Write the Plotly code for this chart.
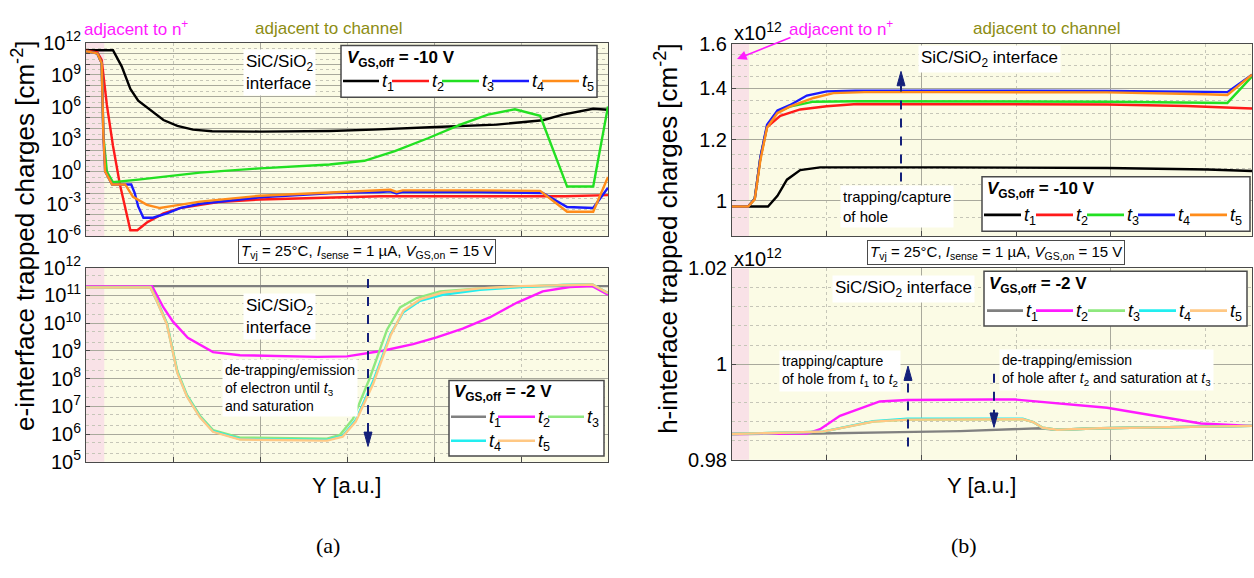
import numpy as np
import plotly.graph_objects as go

W, H = 1254, 578
FONT = "Arial, Liberation Sans, sans-serif"

# ---------------- data ----------------
# Position along the SiC/SiO2 interface, Y [a.u.]
# (a) top: V_GS,off = -10 V, log10 of e-interface trapped charges [cm^-2]
a10_t1_pos = [0, 0.31, 0.41, 0.51, 0.60, 0.74, 0.89, 1.05, 1.23, 1.45, 2.0, 2.8, 3.3, 3.95, 4.72, 5.25, 5.48, 5.83, 6.0]
a10_t1_lg = [11.3, 11.3, 9.8, 7.7, 6.6, 5.7, 4.8, 4.25, 3.9, 3.75, 3.72, 3.78, 3.9, 4.13, 4.37, 4.78, 5.3, 5.85, 5.76]
a10_t2_pos = [0, 0.13, 0.18, 0.24, 0.31, 0.39, 0.51, 0.59, 0.70, 0.89, 1.08, 1.31, 1.52, 2.0, 2.84, 3.38, 4.0, 5.0, 5.5, 6.0]
a10_t2_lg = [11.25, 11.1, 10.4, 6.2, 2.4, -1.2, -5.47, -5.47, -4.75, -3.9, -3.4, -3.1, -2.85, -2.6, -2.4, -2.3, -2.3, -2.3, -2.3, -2.2]
a10_t3_pos = [0, 0.13, 0.18, 0.20, 0.24, 0.31, 0.6, 1.31, 2.0, 2.8, 3.2, 3.55, 3.93, 4.31, 4.62, 4.93, 5.22, 5.53, 5.83, 6.0]
a10_t3_lg = [11.2, 11.0, 10.1, 3.3, 0.0, -1.0, -0.75, -0.1, 0.3, 0.66, 1.0, 1.9, 3.1, 4.4, 5.3, 5.8, 5.2, -1.4, -1.4, 6.06]
a10_t4_pos = [0, 0.13, 0.18, 0.20, 0.22, 0.30, 0.52, 0.56, 0.60, 0.66, 0.77, 0.93, 1.08, 1.31, 2.0, 2.84, 3.38, 3.5, 3.57, 3.64, 4.5, 5.25, 5.53, 5.83, 6.0]
a10_t4_lg = [11.2, 11.0, 10.1, 3.3, 0.0, -1.2, -1.2, -2.0, -3.25, -4.3, -4.3, -3.9, -3.4, -3.0, -2.4, -2.0, -1.9, -1.85, -2.05, -1.9, -1.9, -2.0, -3.3, -3.4, -1.5]
a10_t5_pos = [0, 0.13, 0.18, 0.20, 0.22, 0.30, 0.45, 0.54, 0.70, 0.85, 1.0, 1.31, 2.0, 2.84, 3.38, 3.5, 3.57, 3.64, 4.5, 5.22, 5.53, 5.83, 6.0]
a10_t5_lg = [11.2, 11.0, 10.1, 3.3, 0.0, -1.2, -1.2, -2.35, -3.1, -3.4, -3.2, -2.8, -2.25, -1.95, -1.75, -1.7, -1.9, -1.75, -1.75, -1.8, -3.75, -3.75, -0.5]

# (a) bottom: V_GS,off = -2 V, log10 of e-interface trapped charges [cm^-2]
a2_t1_pos = [0, 3.0, 6.0]
a2_t1_lg = [11.33, 11.33, 11.33]
a2_t2_pos = [0, 0.76, 0.89, 1.0, 1.17, 1.46, 1.77, 2.66, 3.0, 3.23, 3.41, 3.76, 4.03, 4.33, 4.64, 4.95, 5.25, 5.56, 5.82, 6.0]
a2_t2_lg = [11.33, 11.33, 10.56, 10.05, 9.47, 8.95, 8.84, 8.78, 8.8, 8.9, 9.0, 9.24, 9.48, 9.8, 10.2, 10.73, 11.14, 11.3, 11.33, 11.02]
a2_t3_pos = [0, 0.74, 0.82, 0.93, 1.05, 1.16, 1.31, 1.46, 1.77, 2.46, 2.77, 2.92, 3.07, 3.26, 3.46, 3.61, 3.80, 4.07, 4.53, 5.48, 5.82, 6.0]
a2_t3_lg = [11.3, 11.3, 10.8, 10.0, 8.27, 7.41, 6.66, 6.14, 5.87, 5.83, 5.83, 5.97, 6.55, 8.0, 9.76, 10.56, 10.9, 11.14, 11.25, 11.37, 11.39, 11.08]
a2_t45_pos = [0, 0.74, 0.82, 0.93, 1.05, 1.16, 1.31, 1.46, 1.77, 2.46, 2.77, 2.95, 3.10, 3.30, 3.50, 3.65, 3.84, 4.10, 4.53, 5.0, 5.48, 5.82, 6.0]
a2_t4_lg = [11.28, 11.28, 10.75, 9.97, 8.22, 7.37, 6.62, 6.1, 5.82, 5.8, 5.79, 5.93, 6.5, 7.9, 9.6, 10.4, 10.8, 11.02, 11.2, 11.3, 11.37, 11.39, 11.08]
a2_t5_lg = [11.28, 11.28, 10.75, 9.95, 8.2, 7.35, 6.6, 6.08, 5.8, 5.78, 5.76, 5.9, 6.45, 7.8, 9.55, 10.45, 10.85, 11.1, 11.25, 11.33, 11.37, 11.39, 11.08]

# (b) top: V_GS,off = -10 V, h-interface trapped charges [x1e12 cm^-2]
b10_t1_pos = [0, 0.38, 0.48, 0.58, 0.72, 0.93, 2.2, 3.96, 5.02, 5.49]
b10_t1_val = [0.983, 0.983, 1.015, 1.065, 1.096, 1.105, 1.105, 1.103, 1.098, 1.093]
b10_t2_pos = [0, 0.17, 0.24, 0.30, 0.37, 0.51, 0.72, 1.0, 1.32, 2.2, 3.0, 3.96, 4.8, 5.49]
b10_t2_val = [0.983, 0.983, 1.006, 1.138, 1.247, 1.289, 1.314, 1.327, 1.336, 1.336, 1.333, 1.334, 1.328, 1.318]
b10_t3_pos = [0, 0.17, 0.24, 0.30, 0.37, 0.48, 0.61, 0.86, 1.3, 2.2, 3.96, 5.23, 5.49]
b10_t3_val = [0.983, 0.983, 1.006, 1.138, 1.25, 1.305, 1.325, 1.345, 1.347, 1.347, 1.345, 1.34, 1.45]
b10_t4_pos = [0, 0.17, 0.24, 0.30, 0.37, 0.48, 0.61, 0.79, 1.0, 1.3, 2.2, 3.96, 5.0, 5.23, 5.49]
b10_t4_val = [0.983, 0.983, 1.006, 1.14, 1.255, 1.31, 1.331, 1.37, 1.387, 1.39, 1.39, 1.389, 1.385, 1.384, 1.458]
b10_t5_pos = [0, 0.17, 0.24, 0.30, 0.37, 0.48, 0.61, 0.86, 1.07, 1.4, 2.2, 3.96, 5.0, 5.23, 5.49]
b10_t5_val = [0.983, 0.983, 1.004, 1.13, 1.245, 1.30, 1.325, 1.36, 1.38, 1.384, 1.384, 1.383, 1.375, 1.372, 1.458]

# (b) bottom: V_GS,off = -2 V, h-interface trapped charges [x1e12 cm^-2]
b2_t1_pos = [0, 0.93, 1.77, 2.41, 3.25, 3.43, 3.89, 5.49]
b2_t1_val = [0.9854, 0.9855, 0.9858, 0.986, 0.9866, 0.9863, 0.9866, 0.9871]
b2_t2_pos = [0, 0.79, 0.93, 1.14, 1.56, 1.85, 2.74, 2.99, 3.96, 4.95, 5.49]
b2_t2_val = [0.9854, 0.9855, 0.9864, 0.9892, 0.9922, 0.9925, 0.9926, 0.9926, 0.9909, 0.9876, 0.9871]
b2_t345_pos = [0, 0.96, 1.49, 1.85, 3.07, 3.18, 3.28, 3.43, 3.89, 5.49]
b2_t3_val = [0.9854, 0.9859, 0.988, 0.9884, 0.9885, 0.9879, 0.9867, 0.9863, 0.9866, 0.9871]
b2_t4_val = [0.9854, 0.9859, 0.9881, 0.9886, 0.9886, 0.9879, 0.9867, 0.9863, 0.9866, 0.9871]
b2_t5_val = [0.9854, 0.9859, 0.988, 0.9884, 0.9885, 0.9879, 0.9867, 0.9863, 0.9866, 0.9871]

series_labels = ["t1", "t2", "t3", "t4", "t5"]
colors_m10 = ["#000000", "#ff1a1a", "#22e022", "#1a1aff", "#ff8c1a"]
colors_m2 = ["#808080", "#ff1aff", "#8ee87e", "#22eef0", "#ffc884"]

# ---------------- styling ----------------
BG = "#fbfbe5"
PINK = "#f9e2e7"
MAJOR = "#a9a99c"
MINOR = "#c6c6b8"
FRAME = "#4a4a4a"
NAVY = "#14207a"
LW = 2.4


def P(px, py):
    return px / W, 1 - py / H


def pd(px0, px1):
    return [px0 / W, px1 / W]


def pdy(py_top, py_bot):
    return [1 - py_bot / H, 1 - py_top / H]


fig = go.Figure()


def add_series(xs, ys, color, xa, ya, name):
    fig.add_trace(go.Scatter(x=xs, y=ys, mode="lines", name=name,
                             line=dict(color=color, width=LW),
                             xaxis=xa, yaxis=ya, showlegend=False,
                             hoverinfo="skip"))


def from_log(v):
    return np.power(10.0, np.asarray(v, dtype=float))


# (a) top
for pos, lg, c, n in zip([a10_t1_pos, a10_t2_pos, a10_t3_pos, a10_t4_pos, a10_t5_pos],
                         [a10_t1_lg, a10_t2_lg, a10_t3_lg, a10_t4_lg, a10_t5_lg],
                         colors_m10, series_labels):
    add_series(pos, from_log(lg), c, "x", "y", n)
# (a) bottom
for pos, lg, c, n in zip([a2_t1_pos, a2_t2_pos, a2_t3_pos, a2_t45_pos, a2_t45_pos],
                         [a2_t1_lg, a2_t2_lg, a2_t3_lg, a2_t4_lg, a2_t5_lg],
                         colors_m2, series_labels):
    add_series(pos, from_log(lg), c, "x2", "y2", n)
# (b) top
for pos, v, c, n in zip([b10_t1_pos, b10_t2_pos, b10_t3_pos, b10_t4_pos, b10_t5_pos],
                        [b10_t1_val, b10_t2_val, b10_t3_val, b10_t4_val, b10_t5_val],
                        colors_m10, series_labels):
    add_series(pos, v, c, "x3", "y3", n)
# (b) bottom
for pos, v, c, n in zip([b2_t1_pos, b2_t2_pos, b2_t345_pos, b2_t345_pos, b2_t345_pos],
                        [b2_t1_val, b2_t2_val, b2_t3_val, b2_t4_val, b2_t5_val],
                        colors_m2, series_labels):
    add_series(pos, v, c, "x4", "y4", n)

tickfont = dict(family=FONT, size=20, color="black")


def xax(domain, rng, anchor):
    return dict(domain=domain, range=rng, anchor=anchor, showticklabels=False,
                ticks="inside", ticklen=5, tickcolor=FRAME, tick0=0, dtick=2,
                showgrid=True, gridcolor=MAJOR, gridwidth=1, zeroline=False,
                minor=dict(tick0=0, dtick=1, showgrid=True, gridcolor=MINOR,
                           griddash="dot", ticks="inside", ticklen=5, tickcolor=FRAME),
                showline=True, mirror=True, linecolor=FRAME, linewidth=1)


def yax(domain, anchor, **kw):
    d = dict(domain=domain, anchor=anchor, ticks="inside", ticklen=4, tickcolor=FRAME,
             showgrid=True, gridcolor=MAJOR, gridwidth=1, zeroline=False,
             showline=True, mirror=True, linecolor=FRAME, linewidth=1,
             tickfont=tickfont, tickmode="array")
    d.update(kw)
    return d


def sup_label(k):
    return "10<sup>%d</sup>" % k


left_x = pd(86, 608)
right_x = pd(732, 1252)

top_dec = list(range(-6, 13))
bot_dec = list(range(5, 13))

fig.update_layout(
    xaxis=xax(left_x, [0, 6], "y"),
    yaxis=yax(pdy(30, 232), "x", type="log", range=[-6, 12],
              tickvals=[10.0 ** k for k in top_dec],
              ticktext=[sup_label(k) if k % 3 == 0 else "" for k in top_dec],
              minor=dict(tickmode="array", tickvals=[3 * 10.0 ** k for k in range(-6, 12)],
                         showgrid=True, gridcolor=MINOR, griddash="dot")),
    xaxis2=xax(left_x, [0, 6], "y2"),
    yaxis2=yax(pdy(265, 468), "x2", type="log", range=[5, 12],
               tickvals=[10.0 ** k for k in bot_dec],
               ticktext=[sup_label(k) for k in bot_dec],
               minor=dict(tickmode="array",
                          tickvals=[m * 10.0 ** k for k in range(5, 12) for m in (2, 5)],
                          showgrid=True, gridcolor=MINOR, griddash="dot")),
    xaxis3=xax(right_x, [0, 5.49], "y3"),
    yaxis3=yax(pdy(31, 232), "x3", type="log",
               range=[float(np.log10(0.9)), float(np.log10(1.6))],
               tickvals=[1.0, 1.2, 1.4, 1.6], ticktext=["1", "1.2", "1.4", "1.6"],
               minor=dict(tickmode="array",
                          tickvals=[0.95, 1.05, 1.1, 1.15, 1.25, 1.3, 1.35, 1.45, 1.5, 1.55],
                          showgrid=True, gridcolor=MINOR, griddash="dot")),
    xaxis4=xax(right_x, [0, 5.49], "y4"),
    yaxis4=yax(pdy(266, 466), "x4", type="linear", range=[0.98, 1.02],
               tickvals=[0.98, 1.0, 1.02], ticktext=["0.98", "1", "1.02"],
               minor=dict(tickmode="array",
                          tickvals=[0.984, 0.988, 0.992, 0.996, 1.004, 1.008, 1.012, 1.016],
                          showgrid=True, gridcolor=MINOR, griddash="dot")),
    width=W, height=H, margin=dict(l=0, r=0, t=0, b=0),
    paper_bgcolor="white", plot_bgcolor=BG,
    font=dict(family=FONT, color="black"),
)

shapes = []
annotations = []

# pink strip next to the n+ region
for xr, yr, x1 in [("x", "y domain", 0.21), ("x2", "y2 domain", 0.21),
                   ("x3", "y3 domain", 0.18), ("x4", "y4 domain", 0.18)]:
    shapes.append(dict(type="rect", xref=xr, yref=yr, x0=0, x1=x1, y0=0, y1=1,
                       fillcolor=PINK, line=dict(width=0), layer="below"))


def text(px, py, s, size=16, color="black", xanchor="center", yanchor="middle",
         bg=None, border=None, align="center", angle=0, family=FONT, pad=2):
    x, y = P(px, py)
    a = dict(x=x, y=y, xref="paper", yref="paper", text=s, showarrow=False,
             xanchor=xanchor, yanchor=yanchor, align=align, textangle=angle,
             font=dict(family=family, size=size, color=color))
    if bg:
        a["bgcolor"] = bg
        a["borderpad"] = pad
    if border:
        a["bordercolor"] = border
        a["borderwidth"] = 1
    annotations.append(a)


def seg(px0, py0, px1, py1, color, width=LW, dash=None):
    x0, y0 = P(px0, py0)
    x1, y1 = P(px1, py1)
    ln = dict(color=color, width=width)
    if dash:
        ln["dash"] = dash
    shapes.append(dict(type="line", xref="paper", yref="paper",
                       x0=x0, y0=y0, x1=x1, y1=y1, line=ln))


def dashed_arrow(px, py_tail, py_tip):
    d = 1 if py_tip > py_tail else -1
    base = py_tip - d * 15
    seg(px, py_tail, px, base, NAVY, width=2, dash="dash")
    xa, ya = P(px - 4, base)
    xb, yb = P(px + 4, base)
    xc, yc = P(px, py_tip)
    shapes.append(dict(type="path", xref="paper", yref="paper",
                       path="M %f,%f L %f,%f L %f,%f Z" % (xa, ya, xb, yb, xc, yc),
                       fillcolor=NAVY, line=dict(color=NAVY, width=1)))


def rect(px0, py0, px1, py1):
    x0, y0 = P(px0, py0)
    x1, y1 = P(px1, py1)
    shapes.append(dict(type="rect", xref="paper", yref="paper", x0=x0, y0=y1, x1=x1, y1=y0,
                       fillcolor="white", line=dict(color=FRAME, width=1.5)))


def legend(box, title, title_xy, rows, colors):
    rect(*box)
    text(title_xy[0], title_xy[1], title, size=17, xanchor="left")
    k = 0
    for row_y, entries in rows:
        for (lx0, lx1, tx) in entries:
            seg(lx0, row_y, lx1, row_y, colors[k], width=2.6)
            text(tx, row_y + 2, "<i>t</i><sub>%d</sub>" % (k + 1), size=18, xanchor="left")
            k += 1


title_m10 = "<b><i>V</i><sub>GS,off</sub> = -10 V</b>"
title_m2 = "<b><i>V</i><sub>GS,off</sub> = -2 V</b>"

legend((341, 33, 597, 87), title_m10, (345, 47),
       [(70, [(343, 379, 380), (392, 429, 430), (442, 479, 480), (492, 529, 530), (542, 579, 580)])],
       colors_m10)
legend((449, 383, 604, 462), title_m2, (452, 396),
       [(421, [(451, 486, 487), (498, 535, 536), (548, 584, 585)]),
        (446, [(451, 486, 487), (498, 535, 536)])],
       colors_m2)
legend((982, 170, 1250, 227), title_m10, (985, 184),
       [(210, [(984, 1021, 1022), (1036, 1073, 1074), (1087, 1124, 1125), (1138, 1175, 1176), (1190, 1227, 1228)])],
       colors_m10)
legend((984, 269, 1247, 326), title_m2, (987, 283),
       [(310, [(987, 1023, 1024), (1036, 1073, 1074), (1088, 1125, 1126), (1139, 1176, 1177), (1190, 1227, 1228)])],
       colors_m2)

# headline labels
text(136, 15, "adjacent to n<sup>+</sup>", size=17, color="#ff1aff")
text(328, 15, "adjacent to channel", size=17, color="#8c8c12")
text(841, 15, "adjacent to n<sup>+</sup>", size=17, color="#ff1aff")
text(1046, 15, "adjacent to channel", size=17, color="#8c8c12")
hx, hy = P(737, 47)
annotations.append(dict(x=hx, y=hy, xref="paper", yref="paper", text="", showarrow=True,
                        ax=55, ay=-22, arrowcolor="#ff1aff", arrowwidth=1.6, arrowhead=2,
                        arrowsize=1.2))

# power-of-ten multipliers
text(758, 18, "x10<sup>12</sup>", size=20)
text(758, 255, "x10<sup>12</sup>", size=20)

# measurement conditions
cond = "<i>T</i><sub>vj</sub> = 25°C, <i>I</i><sub>sense</sub> = 1 µA, <i>V</i><sub>GS,on</sub> = 15 V"
text(367, 248, cond, size=15, bg="white", border=FRAME)
text(996, 249, cond, size=15, bg="white", border=FRAME)

# interface labels
sic2 = "SiC/SiO<sub>2</sub>"
text(243, 61, sic2 + "<br>interface", size=17, xanchor="left", align="left", bg="white")
text(243, 316, sic2 + "<br>interface", size=17, xanchor="left", align="left", bg="white")
text(918, 47, sic2 + " interface", size=17, xanchor="left", bg="white")
text(832, 287, sic2 + " interface", size=17, xanchor="left", bg="white")

# process annotations
text(222, 391, "de-trapping/emission<br>of electron until <i>t</i><sub>3</sub><br>and saturation",
     size=14, xanchor="left", align="left", bg="white")
text(840, 201, "trapping/capture<br>of hole", size=15, xanchor="left", align="left", bg="white")
text(779, 373, "trapping/capture<br>of hole from <i>t</i><sub>1</sub> to <i>t</i><sub>2</sub>",
     size=14, xanchor="left", align="left", bg="white")
text(999, 372, "de-trapping/emission<br>of hole after <i>t</i><sub>2</sub> and saturation at <i>t</i><sub>3</sub>",
     size=14, xanchor="left", align="left", bg="white")

dashed_arrow(368, 277, 452)
dashed_arrow(901, 175, 60)
dashed_arrow(908, 452, 368)
dashed_arrow(994, 376, 432)

# axis titles
text(24, 232, "e-interface trapped charges [cm<sup>-2</sup>]", size=26, angle=-90)
text(667, 235, "h-interface trapped charges [cm<sup>-2</sup>]", size=26, angle=-90)
text(346, 493, "Y [a.u.]", size=22)
text(981, 493, "Y [a.u.]", size=22)
text(328, 556, "(a)", size=22, family="Liberation Serif, Times New Roman, serif")
text(964, 556, "(b)", size=22, family="Liberation Serif, Times New Roman, serif")

fig.update_layout(shapes=shapes, annotations=annotations)
fig.write_html("out.html")
